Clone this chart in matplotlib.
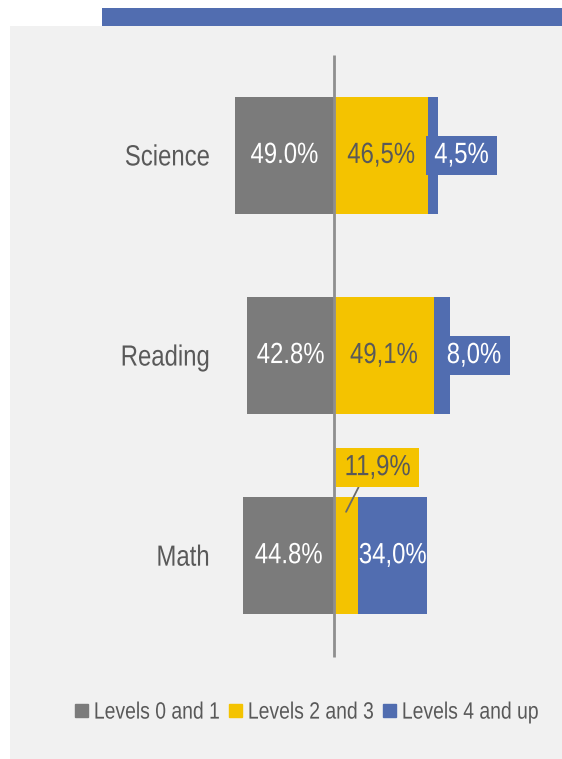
import matplotlib
matplotlib.use("Agg")
import matplotlib.pyplot as plt
from matplotlib.patches import Rectangle
from matplotlib.patheffects import AbstractPathEffect
from matplotlib.transforms import Affine2D
from matplotlib.text import Text

# Share of students by proficiency level, per subject
subjects = ["Science", "Reading", "Math"]
levels_0_1 = [49.0, 42.8, 44.8]
levels_2_3 = [46.5, 49.1, 11.9]
levels_4_up = [4.5, 8.0, 34.0]

labels_0_1 = ["49.0%", "42.8%", "44.8%"]
labels_2_3 = ["46,5%", "49,1%", "11,9%"]
labels_4_up = ["4,5%", "8,0%", "34,0%"]

legend_names = ["Levels 0 and 1", "Levels 2 and 3", "Levels 4 and up"]

GREY = "#7b7b7b"
YELLOW = "#f4c300"
BLUE = "#516db0"
PANEL = "#f1f1f1"
TEXT = "#595959"
COND = 0.82  # width/height ratio of the condensed lettering

plt.rcParams["font.family"] = ["Liberation Sans", "DejaVu Sans"]


class StretchY(AbstractPathEffect):
    """Draw text taller than its font size, keeping its vertical centre."""

    def __init__(self, text, sy):
        super().__init__()
        self.text = text
        self.sy = sy

    def draw_path(self, renderer, gc, tpath, affine, rgbFace=None):
        ext = Text.get_window_extent(self.text, renderer)
        cy = 0.5 * (ext.y0 + ext.y1)
        t = affine + Affine2D().translate(0, -cy).scale(1, self.sy).translate(0, cy)
        renderer.draw_path(gc, tpath, t, rgbFace)


def condense(text):
    text.set_path_effects([StretchY(text, 1 / COND)])


W, H = 562, 759
fig = plt.figure(figsize=(W / 100, H / 100), dpi=100)
fig.patch.set_facecolor("white")

# light panel and header strip
fig.patches.append(Rectangle((10 / W, 0), (W - 10) / W, (H - 26) / H,
                             transform=fig.transFigure, facecolor=PANEL,
                             edgecolor="none", zorder=-2))
fig.patches.append(Rectangle((102 / W, 1 - 26 / H), (W - 102) / W, 18 / H,
                             transform=fig.transFigure, facecolor=BLUE,
                             edgecolor="none", zorder=-2))

ax = fig.add_axes([220 / W, 0, (W - 220) / W, (H - 26) / H])
ax.set_facecolor("none")
ax.set_zorder(1)

px = 2.03  # pixels per percentage point
ax.set_xlim((220 - 334) / px, (W - 334) / px)
ax.set_ylim(3.015, -0.6475)

ypos = list(range(len(subjects)))
bh = 0.585

ax.barh(ypos, [-v for v in levels_0_1], height=bh, color=GREY, zorder=2)
ax.barh(ypos, levels_2_3, height=bh, color=YELLOW, zorder=2)
ax.barh(ypos, levels_4_up, left=levels_2_3, height=bh, color=BLUE, zorder=2)

# zero line
ax.vlines(0, -0.5025, 2.5075, color="#8f8f8f", linewidth=2, zorder=3)

fs = 21 * COND
box_pad = 0.355
for i in ypos:
    t = ax.text(-levels_0_1[i] / 2, i, labels_0_1[i], ha="center", va="center",
                color="white", fontsize=fs, zorder=4)
    condense(t)

for i in ypos:
    if levels_2_3[i] > 20:
        t = ax.text(levels_2_3[i] / 2, i, labels_2_3[i], ha="center",
                    va="center", color=TEXT, fontsize=fs, zorder=4)
    else:
        t = ax.annotate(labels_2_3[i], xy=(levels_2_3[i] / 2, i - 0.22),
                        xytext=(31.5, 44), textcoords="offset pixels",
                        ha="center", va="center", color=TEXT, fontsize=fs,
                        zorder=5,
                        bbox=dict(boxstyle=f"square,pad={box_pad}",
                                  facecolor=YELLOW, edgecolor="none"),
                        arrowprops=dict(arrowstyle="-", color="#6a6a6a", lw=1.3,
                                        relpos=(0.36, 0.5), shrinkA=0,
                                        shrinkB=0))
    condense(t)

for i in ypos:
    end = levels_2_3[i] + levels_4_up[i]
    if levels_4_up[i] > 20:
        t = ax.text(levels_2_3[i] + levels_4_up[i] / 2, i, labels_4_up[i],
                    ha="center", va="center", color="white", fontsize=fs,
                    zorder=4)
    else:
        t = ax.annotate(labels_4_up[i], xy=(end, i), xytext=(24, 0),
                        textcoords="offset pixels", ha="center", va="center",
                        color="white", fontsize=fs, zorder=5,
                        bbox=dict(boxstyle=f"square,pad={box_pad}",
                                  facecolor=BLUE, edgecolor="none"))
    condense(t)

ax.set_yticks(ypos)
ax.set_yticklabels(subjects, fontsize=fs, color=TEXT)
ax.tick_params(axis="y", length=0, pad=7.5)
for lab in ax.get_yticklabels():
    condense(lab)
ax.set_xticks([])
for s in ax.spines.values():
    s.set_visible(False)

# legend entries, one per level, laid out left to right
leg_fs = 17 * COND
leg_x = [75, 229, 383]
for name, c, x0 in zip(legend_names, (GREY, YELLOW, BLUE), leg_x):
    leg = fig.legend([Rectangle((0, 0), 1, 1, color=c)], [name],
                     loc="center left", bbox_to_anchor=(x0 / W, 1 - 713 / H),
                     frameon=False, fontsize=leg_fs, labelcolor=TEXT,
                     handlelength=0.53 / COND, handleheight=0.53 / COND,
                     handletextpad=0.27 / COND, borderpad=0, borderaxespad=0)
    for lt in leg.get_texts():
        condense(lt)

fig.savefig("out.png", dpi=100)
